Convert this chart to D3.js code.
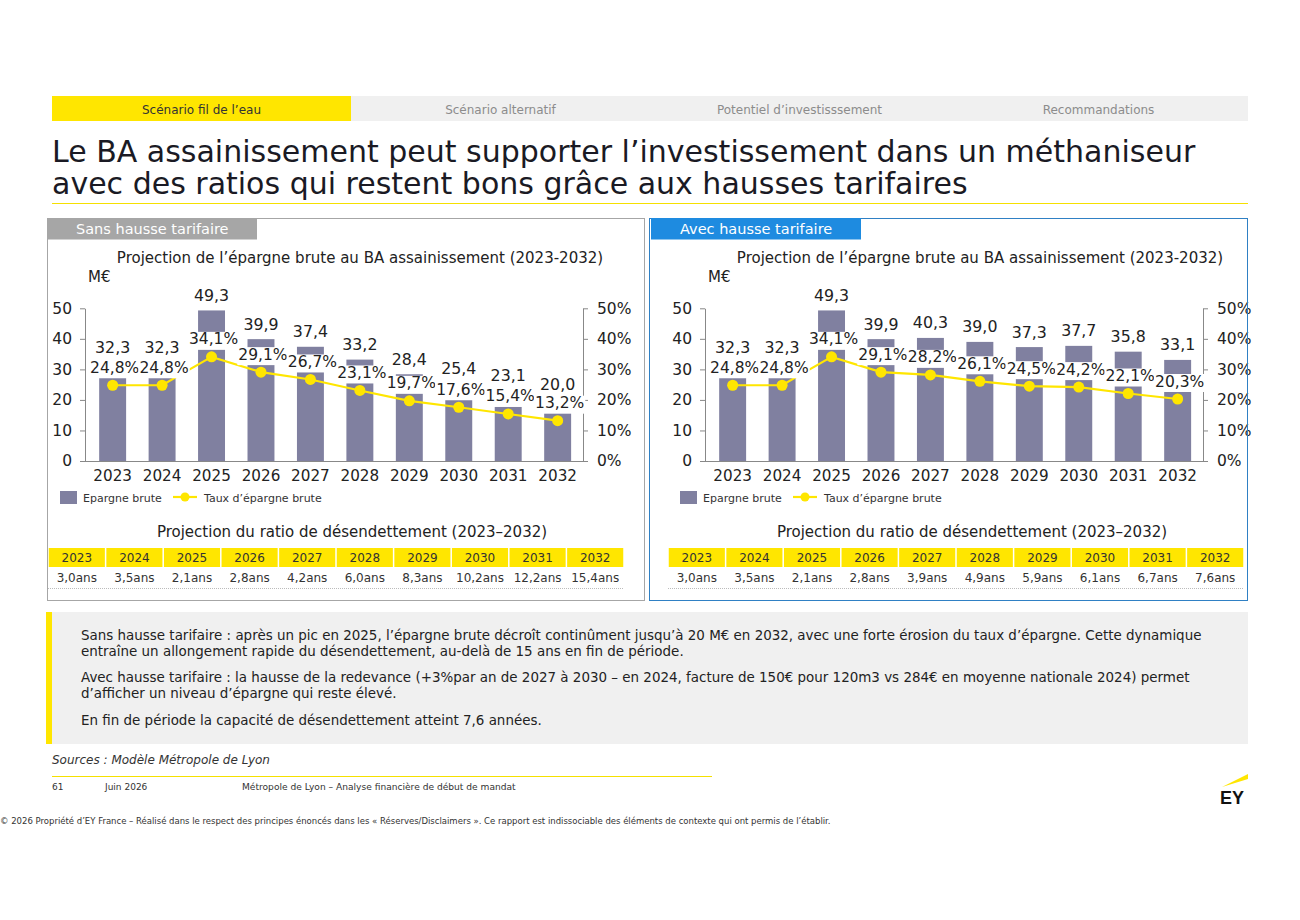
<!DOCTYPE html>
<html>
<head>
<meta charset="utf-8">
<script src="https://cdn.jsdelivr.net/npm/d3@7"></script>
<style>
  html, body { margin: 0; padding: 0; background: #fff; }
  svg { display: block; font-family: "DejaVu Sans", Verdana, sans-serif; }
</style>
</head>
<body>
<svg id="chart" width="1300" height="920"></svg>
<script>
// ---------------- DATA ----------------
const years = ["2023", "2024", "2025", "2026", "2027", "2028", "2029", "2030", "2031", "2032"];

const epargneSans = [32.3, 32.3, 49.3, 39.9, 37.4, 33.2, 28.4, 25.4, 23.1, 20.0];
const tauxSans    = [24.8, 24.8, 34.1, 29.1, 26.7, 23.1, 19.7, 17.6, 15.4, 13.2];
const ratioSans   = [3.0, 3.5, 2.1, 2.8, 4.2, 6.0, 8.3, 10.2, 12.2, 15.4];

const epargneAvec = [32.3, 32.3, 49.3, 39.9, 40.3, 39.0, 37.3, 37.7, 35.8, 33.1];
const tauxAvec    = [24.8, 24.8, 34.1, 29.1, 28.2, 26.1, 24.5, 24.2, 22.1, 20.3];
const ratioAvec   = [3.0, 3.5, 2.1, 2.8, 3.9, 4.9, 5.9, 6.1, 6.7, 7.6];

const leftTicks  = [0, 10, 20, 30, 40, 50];
const rightTicks = [0, 10, 20, 30, 40, 50];

const tabs = ["Scénario fil de l’eau", "Scénario alternatif", "Potentiel d’investisssement", "Recommandations"];
const panelTitles = ["Sans hausse tarifaire", "Avec hausse tarifaire"];
const chartTitle = "Projection de l’épargne brute au BA assainissement (2023-2032)";
const tableTitle = "Projection du ratio de désendettement (2023–2032)";
const legendLabels = ["Epargne brute", "Taux d’épargne brute"];

const comments = [
  ["Sans hausse tarifaire : après un pic en 2025, l’épargne brute décroît continûment jusqu’à 20 M€ en 2032, avec une forte érosion du taux d’épargne. Cette dynamique",
   "entraîne un allongement rapide du désendettement, au-delà de 15 ans en fin de période."],
  ["Avec hausse tarifaire : la hausse de la redevance (+3%par an de 2027 à 2030 – en 2024, facture de 150€ pour 120m3 vs 284€ en moyenne nationale 2024) permet",
   "d’afficher un niveau d’épargne qui reste élevé."],
  ["En fin de période la capacité de désendettement atteint 7,6 années."]
];

// ---------------- STYLE ----------------
const YELLOW = "#FFE600";
const BAR = "#8080A0";
const TXT = "#222";
const fmt = d3.format(".1f");
const comma = v => fmt(v).replace(".", ",");

const svg = d3.select("#chart");
svg.append("rect").attr("width", 1300).attr("height", 920).attr("fill", "#fff");

// ---------------- NAV TABS ----------------
const tabX = d3.scaleBand().domain(d3.range(tabs.length)).range([52, 1248]);
const tabG = svg.append("g");
tabG.selectAll("rect").data(tabs).join("rect")
  .attr("x", (d, i) => tabX(i)).attr("y", 96)
  .attr("width", tabX.bandwidth()).attr("height", 25)
  .attr("fill", (d, i) => i === 0 ? YELLOW : "#F0F0F0");
tabG.selectAll("text").data(tabs).join("text")
  .attr("x", (d, i) => tabX(i) + tabX.bandwidth() / 2).attr("y", 113.5)
  .attr("text-anchor", "middle").attr("font-size", 12)
  .attr("fill", (d, i) => i === 0 ? "#333" : "#8c8c8c")
  .text(d => d);

// ---------------- TITLE ----------------
svg.append("text").attr("x", 52).attr("y", 162).attr("font-size", 30).attr("fill", "#1a1a24")
  .text("Le BA assainissement peut supporter l’investissement dans un méthaniseur");
svg.append("text").attr("x", 52).attr("y", 194).attr("font-size", 30).attr("fill", "#1a1a24")
  .text("avec des ratios qui restent bons grâce aux hausses tarifaires");
svg.append("line").attr("x1", 52).attr("x2", 1248).attr("y1", 203.5).attr("y2", 203.5)
  .attr("stroke", "#F5E000").attr("stroke-width", 1);

// ---------------- PANELS ----------------
function drawPanel(dx, epargne, taux, ratio, box) {
  const g = svg.append("g").attr("transform", `translate(${dx},0)`);

  g.append("text").attr("x", 360).attr("y", 263).attr("text-anchor", "middle")
    .attr("font-size", 15).attr("fill", TXT).text(chartTitle);
  g.append("text").attr("x", 88).attr("y", 282).attr("font-size", 15).attr("fill", TXT).text("M€");

  const x = d3.scaleBand().domain(years).range([87.8, 582.5]).paddingInner(0.455).paddingOuter(0.23);
  const y = d3.scaleLinear().domain([0, 50]).range([461, 308.3]);
  const yp = d3.scaleLinear().domain([0, 50]).range([461, 308.3]);

  // bars
  g.append("g").selectAll("rect").data(years).join("rect")
    .attr("x", d => x(d)).attr("width", x.bandwidth())
    .attr("y", (d, i) => y(epargne[i])).attr("height", (d, i) => y(0) - y(epargne[i]))
    .attr("fill", BAR);

  // axes
  const axL = g.append("g").attr("transform", "translate(85,0)")
    .call(d3.axisLeft(y).tickValues(leftTicks).tickSize(5).tickPadding(8).tickSizeOuter(0));
  const axR = g.append("g").attr("transform", "translate(583,0)")
    .call(d3.axisRight(yp).tickValues(rightTicks).tickSize(5).tickPadding(9).tickSizeOuter(0)
      .tickFormat(d => d + "%"));
  const axB = g.append("g").attr("transform", "translate(0,461)")
    .call(d3.axisBottom(x).tickSize(0).tickPadding(9));
  axB.select(".domain").remove();
  g.append("line").attr("x1", 85).attr("x2", 583).attr("y1", 461.5).attr("y2", 461.5).attr("stroke", "#888");
  [axL, axR, axB].forEach(a => {
    a.attr("font-family", null).attr("font-size", null);
    a.selectAll("text").attr("font-size", 15.5).attr("fill", TXT);
    a.selectAll(".domain, line").attr("stroke", "#888");
  });
  axB.selectAll("text").attr("font-size", 15.2);

  // line
  const cx = d => x(d) + x.bandwidth() / 2;
  const line = d3.line().x((d, i) => cx(years[i])).y(d => yp(d));
  g.append("path").datum(taux).attr("d", line).attr("fill", "none")
    .attr("stroke", YELLOW).attr("stroke-width", 2.2);
  g.append("g").selectAll("circle").data(taux).join("circle")
    .attr("cx", (d, i) => cx(years[i])).attr("cy", d => yp(d)).attr("r", 5.5).attr("fill", YELLOW);

  // labels with white background
  function label(parent, tx, ty, str, fs) {
    const lg = parent.append("g");
    const r = lg.append("rect").attr("fill", "#fff");
    const t = lg.append("text").attr("x", tx).attr("y", ty).attr("text-anchor", "middle")
      .attr("font-size", fs).attr("fill", TXT).text(str);
    const b = t.node().getBBox();
    r.attr("x", b.x - 1).attr("y", b.y + 1.5).attr("width", b.width + 2).attr("height", b.height);
  }
  const lblG = g.append("g");
  epargne.forEach((v, i) => label(lblG, cx(years[i]), y(v) - 9.5, comma(v), 15.8));
  taux.forEach((v, i) => label(lblG, cx(years[i]) + 2, yp(v) - 12.5, comma(v) + "%", 15.5));

  // legend
  const lgd = g.append("g");
  lgd.append("rect").attr("x", 60).attr("y", 491).attr("width", 17).attr("height", 13).attr("fill", BAR);
  lgd.append("text").attr("x", 83).attr("y", 501.5).attr("font-size", 11).attr("fill", "#333").text(legendLabels[0]);
  lgd.append("line").attr("x1", 173).attr("x2", 197).attr("y1", 497).attr("y2", 497)
    .attr("stroke", YELLOW).attr("stroke-width", 2.2);
  lgd.append("circle").attr("cx", 185).attr("cy", 497).attr("r", 4.5).attr("fill", YELLOW);
  lgd.append("text").attr("x", 204).attr("y", 501.5).attr("font-size", 11).attr("fill", "#333").text(legendLabels[1]);

  // ratio table
  g.append("text").attr("x", 352).attr("y", 537).attr("text-anchor", "middle")
    .attr("font-size", 15).attr("fill", TXT).text(tableTitle);
  const tx = d3.scaleBand().domain(years).range([48, 624]);
  const tg = g.append("g");
  tg.selectAll("rect").data(years).join("rect")
    .attr("x", d => tx(d) + 0.75).attr("y", 548).attr("width", tx.bandwidth() - 1.5).attr("height", 19)
    .attr("fill", YELLOW);
  tg.selectAll("text.h").data(years).join("text").attr("class", "h")
    .attr("x", d => tx(d) + tx.bandwidth() / 2).attr("y", 561.5).attr("text-anchor", "middle")
    .attr("font-size", 12).attr("fill", "#333").text(d => d);
  tg.selectAll("text.v").data(ratio).join("text").attr("class", "v")
    .attr("x", (d, i) => tx(years[i]) + tx.bandwidth() / 2).attr("y", 582).attr("text-anchor", "middle")
    .attr("font-size", 12).attr("fill", "#333").text(d => comma(d) + "ans");
  tg.append("line").attr("x1", 48).attr("x2", 624).attr("y1", 588.5).attr("y2", 588.5)
    .attr("stroke", "#bbb").attr("stroke-dasharray", "1,1");

  // panel frame and header tab (drawn on top)
  svg.append("rect").attr("x", box.x + 0.5).attr("y", 218.5).attr("width", box.w).attr("height", 382)
    .attr("fill", "none").attr("stroke", box.border).attr("stroke-width", 1);
  svg.append("rect").attr("x", box.hx).attr("y", 218).attr("width", 210).attr("height", 21.5).attr("fill", box.head);
  svg.append("text").attr("x", box.hx + 29).attr("y", 234).attr("font-size", 14.5).attr("fill", "#fff").text(box.title);
}

drawPanel(0, epargneSans, tauxSans, ratioSans,
  { x: 47, w: 597, hx: 47, head: "#A6A6A6", border: "#A6A6A6", title: panelTitles[0] });
drawPanel(620, epargneAvec, tauxAvec, ratioAvec,
  { x: 649, w: 598, hx: 651, head: "#1E8BE0", border: "#2F80C4", title: panelTitles[1] });

// ---------------- COMMENT BOX ----------------
svg.append("rect").attr("x", 46).attr("y", 612).attr("width", 1202).attr("height", 132).attr("fill", "#F0F0F0");
svg.append("rect").attr("x", 46).attr("y", 612).attr("width", 6).attr("height", 132).attr("fill", YELLOW);
const paraY = [639.5, 682, 724.5];
comments.forEach((lines, p) => {
  lines.forEach((l, k) => {
    svg.append("text").attr("x", 81).attr("y", paraY[p] + k * 16).attr("font-size", 13.45)
      .attr("fill", "#222").text(l);
  });
});

// ---------------- FOOTER ----------------
svg.append("text").attr("x", 52).attr("y", 764).attr("font-size", 12).attr("font-style", "italic")
  .attr("fill", "#333").text("Sources : Modèle Métropole de Lyon");
svg.append("line").attr("x1", 52).attr("x2", 712).attr("y1", 776.5).attr("y2", 776.5)
  .attr("stroke", "#F5E000").attr("stroke-width", 1);
svg.append("text").attr("x", 52).attr("y", 790).attr("font-size", 9).attr("fill", "#333").text("61");
svg.append("text").attr("x", 105).attr("y", 790).attr("font-size", 9).attr("fill", "#333").text("Juin 2026");
svg.append("text").attr("x", 242).attr("y", 790).attr("font-size", 9.1).attr("fill", "#333")
  .text("Métropole de Lyon – Analyse financière de début de mandat");
svg.append("text").attr("x", 0).attr("y", 824).attr("font-size", 8.5).attr("fill", "#333")
  .text("© 2026 Propriété d’EY France – Réalisé dans le respect des principes énoncés dans les « Réserves/Disclaimers ». Ce rapport est indissociable des éléments de contexte qui ont permis de l’établir.");

// EY logo
svg.append("path").attr("d", "M1222,787 L1248,774 L1248,779 Z").attr("fill", YELLOW);
svg.append("text").attr("x", 1220).attr("y", 804).attr("font-size", 18).attr("font-weight", "bold")
  .attr("font-family", "Liberation Sans, Arial, sans-serif").attr("fill", "#111").text("EY");
</script>
</body>
</html>
